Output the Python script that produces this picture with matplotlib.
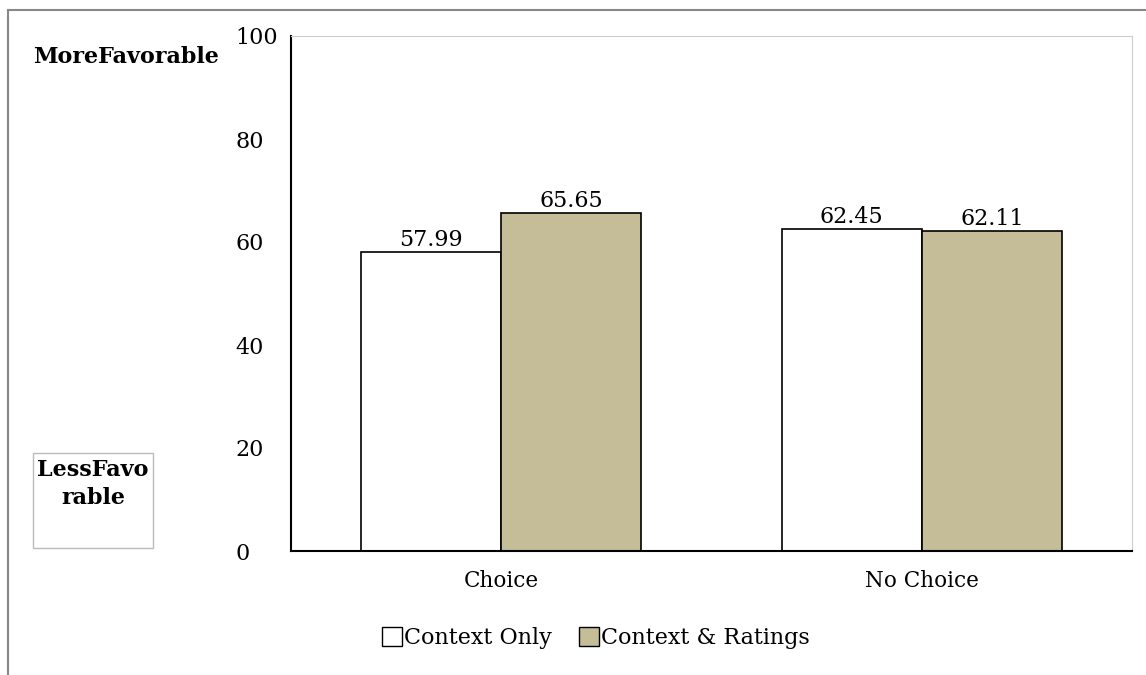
import numpy as np
import matplotlib.pyplot as plt
from matplotlib.patches import Rectangle
from matplotlib.lines import Line2D

plt.rcParams['font.family'] = ['DejaVu Serif']

categories = ["Choice", "No Choice"]
series_names = ["Context Only", "Context & Ratings"]
context_only = [57.99, 62.45]
context_ratings = [65.65, 62.11]
yticks = [0, 20, 40, 60, 80, 100]

fig = plt.figure(figsize=(11.46, 6.75), dpi=100)
ax = fig.add_axes([291 / 1146, 1 - 551 / 675, 841 / 1146, 515 / 675])

x = np.arange(len(categories))
w = 1 / 3
b1 = ax.bar(x - w / 2, context_only, w, color="white", edgecolor="black", linewidth=1.2, label=series_names[0])
b2 = ax.bar(x + w / 2, context_ratings, w, color="#C4BD97", edgecolor="black", linewidth=1.2, label=series_names[1])
for bars in (b1, b2):
    ax.bar_label(bars, fmt="%.2f", fontsize=16, padding=1)

ax.set_xlim(-0.5, 1.5)
ax.set_ylim(0, 100)
ax.set_yticks(yticks)
ax.set_xticks(x)
ax.set_xticklabels(categories, fontsize=15.5)
ax.tick_params(axis="y", labelsize=16, length=0, pad=40)
for t in ax.get_yticklabels():
    t.set_horizontalalignment("left")
ax.tick_params(axis="x", length=0, pad=14)
ax.spines["left"].set_linewidth(1.5)
ax.spines["bottom"].set_linewidth(1.5)
ax.spines["top"].set_color("#cccccc")
ax.spines["right"].set_color("#cccccc")

leg = fig.legend(handles=[Rectangle((0, 0), 1, 1, facecolor="white", edgecolor="black"),
                          Rectangle((0, 0), 1, 1, facecolor="#C4BD97", edgecolor="black")],
                 labels=series_names, loc="center", bbox_to_anchor=(596 / 1146, 1 - 638 / 675),
                 ncol=2, frameon=False, fontsize=16, handlelength=0.9, handleheight=0.9,
                 handletextpad=0.1, columnspacing=1.2)

fig.text(126 / 1146, 1 - 57 / 675, "MoreFavorable", ha="center", va="center", fontsize=16, fontweight="bold")
fig.patches.append(Rectangle((33 / 1146, 1 - 548 / 675), 120 / 1146, 95 / 675, transform=fig.transFigure,
                             facecolor="white", edgecolor="#bbbbbb", linewidth=1))
fig.text(93 / 1146, 1 - 484 / 675, "LessFavo\nrable", ha="center", va="center", fontsize=16,
         fontweight="bold", linespacing=1.3)

fig.lines.append(Line2D([8 / 1146, 1], [1 - 10 / 675, 1 - 10 / 675], transform=fig.transFigure, color="#888888", linewidth=1.5))
fig.lines.append(Line2D([8 / 1146, 8 / 1146], [0, 1 - 10 / 675], transform=fig.transFigure, color="#888888", linewidth=1.5))

fig.savefig("out.png", dpi=100)
